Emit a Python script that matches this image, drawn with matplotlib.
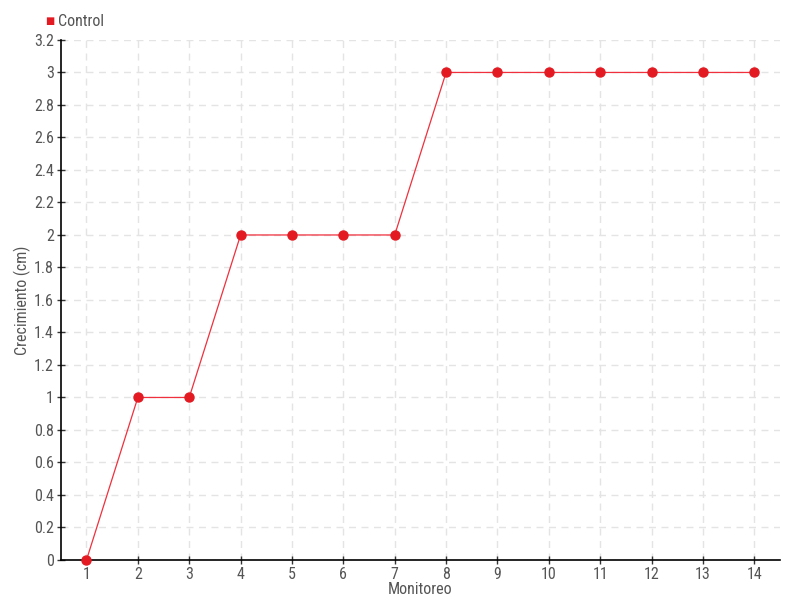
import matplotlib
matplotlib.use("Agg")
import matplotlib.pyplot as plt

plt.rcParams['font.family'] = ['Roboto Condensed', 'DejaVu Sans']

monitoreo = list(range(1, 15))
control = [0, 1, 1, 2, 2, 2, 2, 3, 3, 3, 3, 3, 3, 3]
yticks = [0, 0.2, 0.4, 0.6, 0.8, 1, 1.2, 1.4, 1.6, 1.8, 2, 2.2, 2.4, 2.6, 2.8, 3, 3.2]
ylabels = ['0', '0.2', '0.4', '0.6', '0.8', '1', '1.2', '1.4', '1.6', '1.8',
           '2', '2.2', '2.4', '2.6', '2.8', '3', '3.2']

fig = plt.figure(figsize=(8, 6), dpi=100)
ax = fig.add_axes([0.076, 0.0667, 0.899, 0.8667])

ax.plot(monitoreo, control, color='#f0303c', lw=0.9, zorder=3)
ax.plot(monitoreo, control, 'o', color='#e31a22', ms=6.5, zorder=4, clip_on=False)

ax.set_xlim(0.5, 14.5)
ax.set_ylim(0, 3.2)
ax.set_xticks(monitoreo)
ax.set_yticks(yticks)
ax.set_yticklabels(ylabels)

ax.grid(True, color='#e4e4e4', linestyle=(0, (5, 4)), lw=1)
ax.set_axisbelow(True)
for s in ['top', 'right']:
    ax.spines[s].set_visible(False)
ax.spines['left'].set_linewidth(1.2)
ax.spines['bottom'].set_linewidth(1.2)
ax.tick_params(direction='inout', length=6, width=1, colors='#333333',
               labelcolor='#555555', labelsize=11.5, pad=2)

ax.set_xlabel('Monitoreo', fontsize=11.5, color='#555555', labelpad=0)
ax.set_ylabel('Crecimiento (cm)', fontsize=11.5, color='#555555')
ax.yaxis.set_label_coords(-0.042, 0.5)

fig.text(0.0625, 0.965, '\u25a0', color='#e31a22', fontsize=7, va='center', ha='center')
fig.text(0.073, 0.965, 'Control', color='#555555', fontsize=11.5, va='center', ha='left')

fig.savefig('out.png', dpi=100)
